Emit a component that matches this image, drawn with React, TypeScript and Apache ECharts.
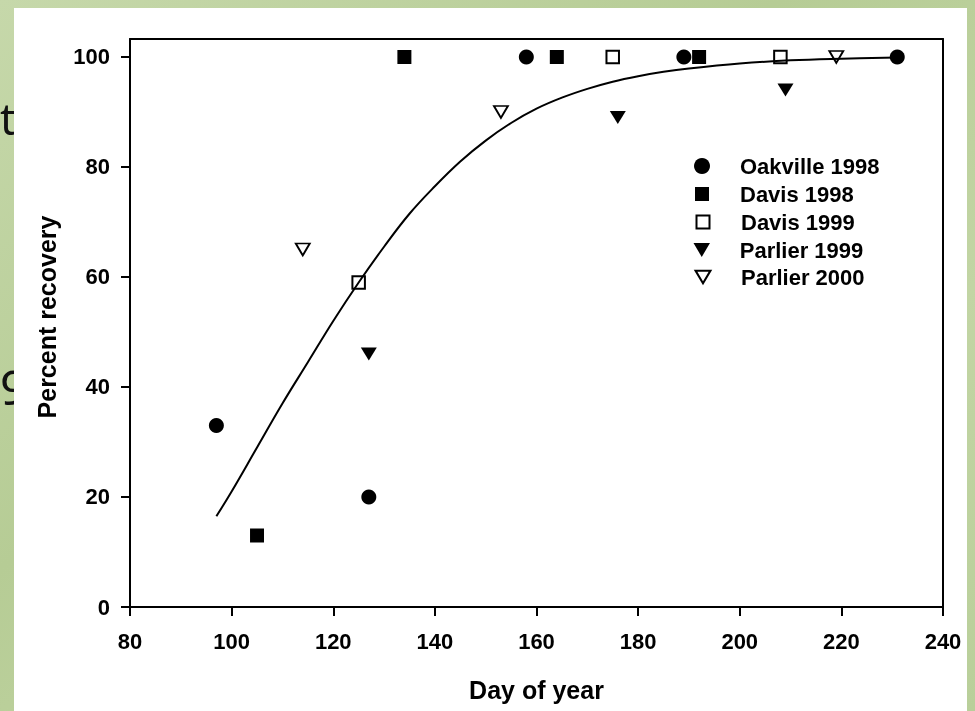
import React, { useEffect, useRef } from "react";
import * as echarts from "echarts";

const FONT = "'Liberation Sans', Arial, Helvetica, sans-serif";

// Data
const oakville98Day = [97, 127, 158, 189, 231];
const oakville98Val = [33, 20, 100, 100, 100];
const davis98Day = [105, 134, 164, 192];
const davis98Val = [13, 100, 100, 100];
const davis99Day = [125, 175, 208];
const davis99Val = [59, 100, 100];
const parlier99Day = [127, 176, 209];
const parlier99Val = [46, 89, 94];
const parlier00Day = [114, 153, 219];
const parlier00Val = [65, 90, 100];

// Fitted curve
const curveDay = [97, 100, 105, 110, 115, 120, 125, 130, 135, 140, 145, 150, 155, 160, 165, 170, 175, 180, 185, 190, 200, 210, 220, 231];
const curveVal = [16.5, 21, 29, 37, 44.5, 52, 59, 65.5, 71.5, 76.5, 81, 84.8, 88, 90.6, 92.6, 94.2, 95.5, 96.5, 97.3, 97.9, 98.8, 99.4, 99.7, 99.9];

const yTicks = [0, 20, 40, 60, 80, 100];
const seriesNames = ["Oakville 1998", "Davis 1998", "Davis 1999", "Parlier 1999", "Parlier 2000"];

const TRI_DOWN = "path://M0,0L20,0L10,17Z";
const SQUARE = "path://M0,0L10,0L10,10L0,10Z";

const zip = (a: number[], b: number[]) => a.map((v, i) => [v, b[i]]);

export default function App() {
  const ref = useRef<HTMLDivElement>(null);
  useEffect(() => {
    const chart = echarts.init(ref.current!, null, { renderer: "svg" });

    const labelStyle = { fontSize: 22, fontWeight: "bold" as const, fontFamily: FONT, color: "#000" };
    const lineStyle = { color: "#000", width: 2 };

    const legendRows = [
      { name: seriesNames[0], icon: "circle", w: 16, h: 16, cy: 166 },
      { name: seriesNames[1], icon: SQUARE, w: 14, h: 14, cy: 194 },
      { name: seriesNames[2], icon: SQUARE, w: 13, h: 13, cy: 222 },
      { name: seriesNames[3], icon: TRI_DOWN, w: 17, h: 14, cy: 250 },
      { name: seriesNames[4], icon: TRI_DOWN, w: 15, h: 13, cy: 277 },
    ];

    const option: any = {
      animation: false,
      grid: { left: 130, right: 32, top: 39, bottom: 104, containLabel: false },
      xAxis: [
        {
          type: "value",
          min: 80,
          max: 240,
          interval: 20,
          position: "bottom",
          axisLine: { show: true, onZero: false, lineStyle },
          axisTick: { show: true, inside: false, length: 9, lineStyle },
          axisLabel: { ...labelStyle, margin: 23 },
          splitLine: { show: false },
          name: "Day of year",
          nameLocation: "middle",
          nameGap: 70,
          nameTextStyle: { fontSize: 25, fontWeight: "bold", fontFamily: FONT, color: "#000" },
        },
        {
          type: "value",
          min: 80,
          max: 240,
          position: "top",
          axisLine: { show: true, onZero: false, lineStyle },
          axisTick: { show: false },
          axisLabel: { show: false },
          splitLine: { show: false },
        },
      ],
      yAxis: [
        {
          type: "value",
          min: 0,
          max: 103.27,
          position: "left",
          axisLine: { show: true, onZero: false, lineStyle },
          axisTick: { show: true, inside: false, length: 9, lineStyle, customValues: yTicks },
          axisLabel: { ...labelStyle, margin: 20, customValues: yTicks },
          splitLine: { show: false },
        },
        {
          type: "value",
          min: 0,
          max: 103.27,
          position: "right",
          axisLine: { show: true, onZero: false, lineStyle },
          axisTick: { show: false },
          axisLabel: { show: false },
          splitLine: { show: false },
        },
      ],
      legend: legendRows.map((r) => ({
        left: 702 - r.w / 2,
        top: r.cy - 11,
        orient: "vertical",
        padding: 0,
        itemWidth: r.w,
        itemHeight: r.h,
        selectedMode: false,
        data: [{ name: r.name, icon: r.icon }],
        textStyle: {
          fontSize: 22,
          fontWeight: "bold",
          fontFamily: FONT,
          color: "#000",
          padding: [0, 0, 0, 33 - r.w / 2],
        },
      })),
      series: [
        {
          name: "fit",
          type: "line",
          data: zip(curveDay, curveVal),
          showSymbol: false,
          smooth: 0.4,
          lineStyle: { color: "#000", width: 2 },
          z: 5,
          silent: true,
        },
        {
          name: seriesNames[0],
          type: "scatter",
          data: zip(oakville98Day, oakville98Val),
          symbol: "circle",
          symbolSize: 15,
          itemStyle: { color: "#000", opacity: 1 },
          z: 3,
        },
        {
          name: seriesNames[1],
          type: "scatter",
          data: zip(davis98Day, davis98Val),
          symbol: "rect",
          symbolSize: 14,
          itemStyle: { color: "#000", opacity: 1 },
          z: 3,
        },
        {
          name: seriesNames[2],
          type: "scatter",
          data: zip(davis99Day, davis99Val),
          symbol: "rect",
          symbolSize: 12.5,
          itemStyle: { color: "#fff", borderColor: "#000", borderWidth: 2, opacity: 1 },
          z: 3,
        },
        {
          name: seriesNames[3],
          type: "scatter",
          data: zip(parlier99Day, parlier99Val),
          symbol: TRI_DOWN,
          symbolSize: [16, 13],
          itemStyle: { color: "#000", opacity: 1 },
          z: 3,
        },
        {
          name: seriesNames[4],
          type: "scatter",
          data: zip(parlier00Day, parlier00Val),
          symbol: TRI_DOWN,
          symbolSize: [14, 12],
          itemStyle: { color: "#fff", borderColor: "#000", borderWidth: 1.8, opacity: 1 },
          z: 3,
        },
      ],
      graphic: [
        {
          type: "rect",
          silent: true,
          z: -30,
          shape: { x: 0, y: 0, width: 975, height: 711 },
          style: {
            fill: {
              type: "linear",
              x: 0,
              y: 0,
              x2: 1,
              y2: 1,
              colorStops: [
                { offset: 0, color: "#c6d8aa" },
                { offset: 0.4, color: "#b6cc95" },
                { offset: 0.7, color: "#c2d5a4" },
                { offset: 1, color: "#b9cf9a" },
              ],
            },
          },
        },
        {
          type: "text",
          silent: true,
          z: -20,
          x: 0,
          y: 118,
          style: {
            text: "t",
            fontSize: 44,
            fontFamily: "'Noto Sans', 'Open Sans', sans-serif",
            fill: "#111",
            align: "left",
            verticalAlign: "middle",
          },
        },
        {
          type: "text",
          silent: true,
          z: -20,
          x: 0,
          y: 386,
          style: {
            text: "9",
            fontSize: 48,
            fontFamily: "'Noto Sans', 'Open Sans', sans-serif",
            fill: "#111",
            align: "left",
            verticalAlign: "middle",
          },
        },
        {
          type: "rect",
          silent: true,
          z: -10,
          shape: { x: 14, y: 8, width: 953, height: 720 },
          style: { fill: "#ffffff" },
        },
        {
          type: "text",
          silent: true,
          z: 10,
          x: 47,
          y: 317,
          rotation: Math.PI / 2,
          style: {
            text: "Percent recovery",
            fontSize: 25,
            fontWeight: "bold",
            fontFamily: FONT,
            fill: "#000",
            align: "center",
            verticalAlign: "middle",
          },
        },
      ],
    };

    chart.setOption(option);
    return () => chart.dispose();
  }, []);

  return (
    <div
      ref={ref}
      style={{ position: "fixed", left: 0, top: 0, width: 975, height: 711 }}
    />
  );
}
